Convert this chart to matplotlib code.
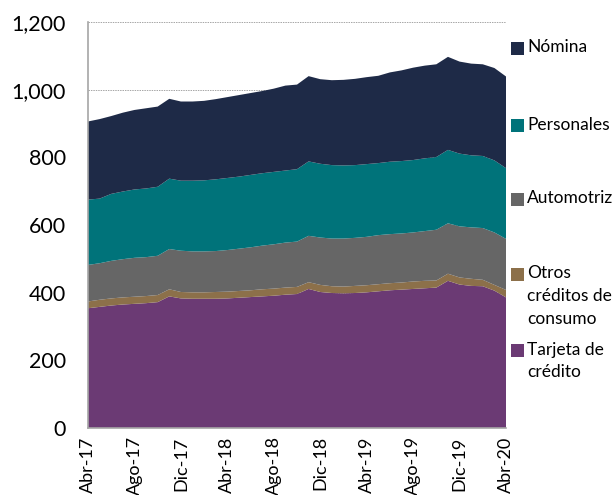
import numpy as np
import matplotlib
matplotlib.use("Agg")
import matplotlib.pyplot as plt
from matplotlib.patches import Rectangle

plt.rcParams['font.family'] = ['Lato', 'DejaVu Sans']

## data (monthly Abr-17 .. Abr-20)
months = ["Abr-17", "May-17", "Jun-17", "Jul-17", "Ago-17", "Sep-17", "Oct-17", "Nov-17", "Dic-17",
          "Ene-18", "Feb-18", "Mar-18", "Abr-18", "May-18", "Jun-18", "Jul-18", "Ago-18", "Sep-18",
          "Oct-18", "Nov-18", "Dic-18", "Ene-19", "Feb-19", "Mar-19", "Abr-19", "May-19", "Jun-19",
          "Jul-19", "Ago-19", "Sep-19", "Oct-19", "Nov-19", "Dic-19", "Ene-20", "Feb-20", "Mar-20", "Abr-20"]

tarjeta = [354, 358, 362, 365, 367, 369, 372, 389, 383, 382, 382, 382, 383, 385, 387, 389, 391, 394, 396,
           411, 402, 399, 398, 399, 401, 404, 407, 409, 411, 413, 415, 435, 424, 420, 419, 406, 386]
otros = [20, 21, 21, 21, 21, 21, 21, 21, 19, 19, 19, 20, 20, 20, 20, 21, 21, 21, 21,
         20, 21, 20, 20, 21, 21, 21, 21, 21, 22, 22, 21, 21, 21, 21, 19, 17, 22]
automotriz = [108, 108, 111, 113, 115, 115, 116, 119, 122, 121, 121, 121, 123, 125, 127, 129, 131, 133, 134,
              137, 140, 141, 142, 142, 143, 145, 145, 145, 145, 147, 150, 149, 151, 152, 153, 155, 151]
personales = [193, 191, 198, 200, 202, 203, 204, 208, 207, 209, 210, 212, 213, 213, 214, 214, 214, 213, 214,
              220, 218, 217, 216, 215, 215, 213, 214, 214, 214, 215, 215, 217, 215, 213, 213, 213, 209]
nomina = [231, 235, 230, 233, 235, 237, 237, 236, 234, 234, 235, 237, 239, 241, 242, 243, 246, 251, 250,
          252, 250, 251, 253, 255, 257, 258, 264, 268, 273, 274, 274, 275, 272, 271, 271, 273, 271]

labels = ["Tarjeta de\ncrédito", "Otros\ncréditos de\nconsumo", "Automotriz", "Personales", "Nómina"]
colors = ["#6B3A74", "#8C704A", "#666666", "#00737A", "#1E2A47"]

# plot parameters
tickFont = 15.5
xtickFont = 13
legendFont = 12.5

fig = plt.figure(figsize=(6.16, 4.95), dpi=100)
ax = fig.add_axes([88/616, 1-428/495, (506-88)/616, (428-22)/495])

x = np.arange(len(months))
ax.stackplot(x, tarjeta, otros, automotriz, personales, nomina, colors=colors, linewidth=0, zorder=2)

ax.set_xlim(0, len(months)-1)
ax.set_ylim(0, 1200)
ax.set_yticks(range(0, 1201, 200))
ax.set_yticklabels(["{:,}".format(v) for v in range(0, 1201, 200)], fontsize=tickFont)
ax.set_xticks(x[::4])
ax.set_xticklabels(months[::4], rotation=90, fontsize=xtickFont)
ax.tick_params(length=0, pad=6)
ax.tick_params(axis='y', pad=16)
ax.yaxis.grid(True, linestyle=(0, (1.5, 1)), color="#A6A6A6", linewidth=0.7, zorder=0)
ax.set_axisbelow(True)
for s in ["top", "right"]:
	ax.spines[s].set_visible(False)
for s in ["left", "bottom"]:
	ax.spines[s].set_color("#A6A6A6")
	ax.spines[s].set_linewidth(1.2)

# legend drawn by hand so entries sit where the reference has them (top to bottom)
legendTop = [48, 125, 199, 274, 350]
for i, (lab, col) in enumerate(zip(labels[::-1], colors[::-1])):
	yc = legendTop[i]
	fig.patches.append(Rectangle((511/616, 1-(yc+6.5)/495), 12.5/616, 13/495, transform=fig.transFigure,
	                             facecolor=col, edgecolor="none"))
	fig.text(527/616, 1-(yc-8.5)/495, lab, fontsize=legendFont, va="top", ha="left", linespacing=1.5)

fig.savefig("out.png", dpi=100)
